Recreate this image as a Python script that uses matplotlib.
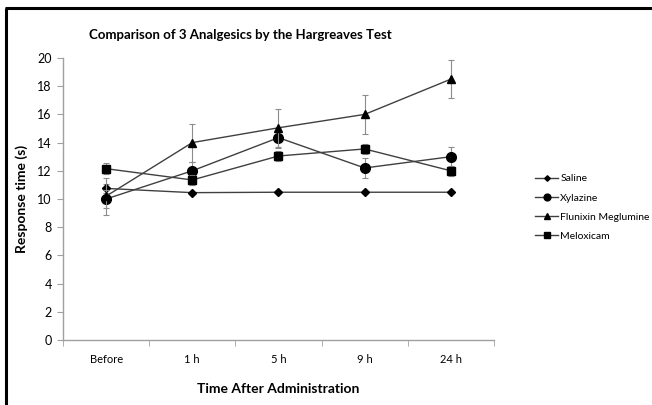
import numpy as np
import matplotlib.pyplot as plt
from matplotlib.lines import Line2D

plt.rcParams['font.family'] = ['Lato', 'DejaVu Sans']

times = ['Before', '1 h', '5 h', '9 h', '24 h']

saline = [10.75, 10.45, 10.48, 10.48, 10.48]
saline_err = [0.3, 0.05, 0.05, 0.05, 0.05]
xylazine = [10.0, 12.0, 14.35, 12.2, 13.0]
xylazine_err = [0.65, 0.65, 0.7, 0.7, 0.7]
flunixin = [10.2, 14.0, 15.05, 16.0, 18.5]
flunixin_err = [1.3, 1.35, 1.35, 1.36, 1.36]
meloxicam = [12.15, 11.35, 13.05, 13.55, 12.0]
meloxicam_err = [0.37, 0.37, 0.37, 0.35, 0.37]

series = [
    ('Saline', saline, saline_err, 'D', 4),
    ('Xylazine', xylazine, xylazine_err, 'o', 7),
    ('Flunixin Meglumine', flunixin, flunixin_err, '^', 6),
    ('Meloxicam', meloxicam, meloxicam_err, 's', 6),
]

fig = plt.figure(figsize=(6.52, 4.05), dpi=100)
ax = fig.add_axes([0.0966, 0.1605, 0.661, 0.6963])

x = np.arange(len(times))
for name, vals, errs, mk, ms in series:
    ax.errorbar(x, vals, yerr=errs, fmt='none', ecolor='#8c8c8c',
                elinewidth=0.8, capsize=2.5, capthick=0.8)
    ax.plot(x, vals, color='#404040', lw=1, marker=mk, ms=ms,
            mfc='black', mec='black', label=name)

ax.set_xlim(-0.5, len(times) - 0.5)
ax.set_ylim(0, 20)
ax.set_yticks(range(0, 21, 2))
ax.set_xticks(x)
ax.set_xticklabels(times)
ax.set_xticks(np.arange(-0.5, len(times), 1), minor=True)
ax.tick_params(axis='x', which='major', length=0, pad=10, labelsize=8)
ax.tick_params(axis='x', which='minor', length=4, color='#a0a0a0', direction='out')
ax.tick_params(axis='y', length=4, color='#a0a0a0', labelsize=9, pad=4)

for s in ['top', 'right']:
    ax.spines[s].set_visible(False)
for s in ['left', 'bottom']:
    ax.spines[s].set_color('#a0a0a0')
    ax.spines[s].set_linewidth(1)

ax.set_ylabel('Response time (s)', fontsize=10, fontweight='bold', labelpad=7)
ax.set_xlabel('Time After Administration', fontsize=10, fontweight='bold', labelpad=13)
fig.text(0.368, 0.913, 'Comparison of 3 Analgesics by the Hargreaves Test',
         fontsize=9.5, fontweight='bold', ha='center', va='center')

ax.legend(loc='center left', bbox_to_anchor=(1.086, 0.47), frameon=False,
          fontsize=7.5, handlelength=2.2, handletextpad=0.2, labelspacing=0.95,
          markerscale=0.7, borderaxespad=0)

# black frame (left and top)
W, H = 652, 405
fig.add_artist(Line2D([6 / W, 6 / W], [0, 1 - 8 / H], color='black', lw=2.2,
                      transform=fig.transFigure, solid_capstyle='butt'))
fig.add_artist(Line2D([5 / W, 1], [1 - 8 / H, 1 - 8 / H], color='black', lw=2.2,
                      transform=fig.transFigure, solid_capstyle='butt'))

fig.savefig('out.png', dpi=100)
